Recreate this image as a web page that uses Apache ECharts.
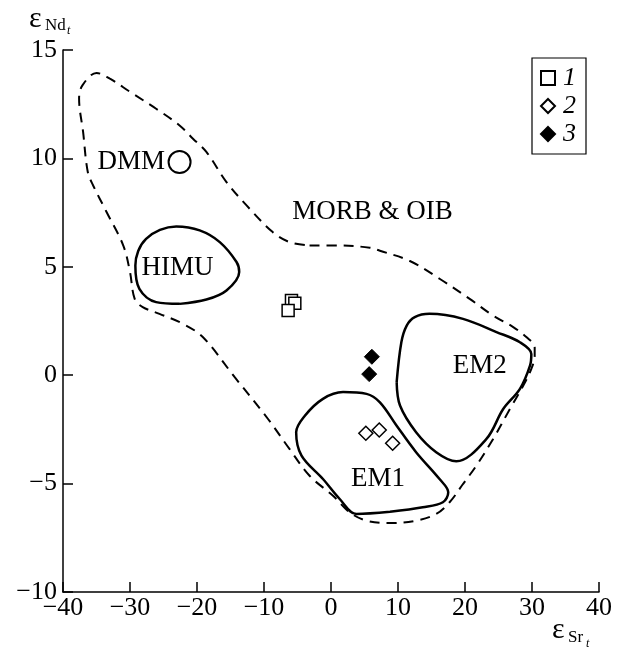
<!DOCTYPE html>
<html><head><meta charset="utf-8">
<script src="https://cdn.jsdelivr.net/npm/echarts@6/dist/echarts.min.js"></script>
<style>html,body{margin:0;padding:0;background:#fff}#c{width:621px;height:659px}</style>
</head><body><div id="c"></div>
<script>
// ---- data ----
const xMin = -40, xMax = 40, xStep = 10;
const yMin = -10, yMax = 15, yStep = 5;
const legendNames = ['1', '2', '3'];
const series1 = [[-5.9, 3.44], [-5.4, 3.32], [-6.4, 2.98]];
const series2 = [[5.2, -2.68], [7.2, -2.53], [9.2, -3.14]];
const series3 = [[6.1, 0.85], [5.7, 0.05]];
const dmmPoint = [[-22.6, 9.83]];
const morbOib = [[-3.2,5.98],[1.3,5.98],[5.8,5.88],[7.3,5.74],[11.7,5.28],[16.2,4.45],[20.7,3.52],[24.2,2.75],[27.2,2.22],[29.2,1.75],[30.4,1.29],[30.4,0.90],[29.9,0.29],[28.7,-0.48],[26.7,-1.56],[24.2,-2.94],[21.7,-4.17],[19.7,-5.02],[17.7,-5.86],[15.7,-6.40],[12.7,-6.71],[8.8,-6.82],[5.3,-6.71],[2.8,-6.33],[0.3,-5.56],[-3.2,-4.64],[-6.2,-3.40],[-9.4,-2.02],[-14.4,-0.08],[-19.1,1.75],[-22.1,2.37],[-25.6,2.83],[-28.1,3.14],[-29.3,3.52],[-30.0,4.76],[-31.0,5.98],[-33.5,7.53],[-35.5,8.75],[-36.3,9.37],[-37.0,11.22],[-37.6,12.76],[-37.1,13.37],[-35.0,13.94],[-33.0,13.68],[-30.0,13.07],[-26.1,12.29],[-22.6,11.52],[-20.6,10.91],[-18.6,10.30],[-15.6,8.91],[-12.6,7.83],[-8.7,6.60],[-6.2,6.14],[-3.2,5.98]];
const himu = [[-22.6,3.29],[-26.1,3.37],[-28.6,3.98],[-29.2,5.06],[-27.6,6.29],[-23.1,6.86],[-19.6,6.68],[-16.6,6.14],[-14.1,5.22],[-13.7,4.76],[-15.6,3.91],[-18.6,3.49],[-22.6,3.29]];
const em1 = [[8.8,-6.30],[3.8,-6.40],[1.3,-5.71],[-1.2,-4.79],[-4.4,-3.71],[-5.2,-2.63],[-3.9,-1.87],[-1.2,-1.09],[1.8,-0.78],[5.3,-0.86],[7.3,-1.25],[9.8,-2.33],[12.7,-3.55],[16.2,-4.79],[17.5,-5.40],[16.7,-5.86],[13.7,-6.09],[8.8,-6.30]];
const em2 = [[9.8,-0.32],[10.5,1.52],[11.3,2.29],[12.5,2.68],[14.7,2.83],[19.7,2.60],[24.7,1.99],[28.2,1.52],[29.9,0.98],[29.7,0.44],[28.2,-0.63],[25.7,-1.56],[23.2,-2.94],[18.7,-3.97],[15.7,-3.55],[12.7,-2.63],[10.3,-1.40],[9.8,-0.32]];
const regionLabelNames = ['DMM', 'HIMU', 'MORB & OIB', 'EM1', 'EM2'];
const regionLabelPos = [[-29.8, 9.85], [-22.9, 4.95], [6.2, 7.54], [7.0, -4.78], [22.2, 0.44]];

// ---- chart ----
const FONT = 'Liberation Serif';
const fmt = v => String(v).replace('-', '\u2212');
const chart = echarts.init(document.getElementById('c'), null, {renderer: 'canvas'});

function contour(data, dashed) {
  return {
    type: 'line', data: data, smooth: 0.35, symbol: 'none', silent: true, z: 2,
    lineStyle: {color: '#000', width: dashed ? 2 : 2.5, type: dashed ? [10, 7] : 'solid', opacity: 1},
    animation: false
  };
}

const option = {
  animation: false,
  backgroundColor: '#fff',
  grid: {left: 63, right: 22, top: 50, bottom: 67, containLabel: false},
  xAxis: {
    type: 'value', min: xMin, max: xMax, interval: xStep,
    axisLine: {show: true, onZero: false, lineStyle: {color: '#000', width: 1.5}},
    axisTick: {show: true, inside: true, length: 10, lineStyle: {color: '#000', width: 1.5}},
    axisLabel: {color: '#000', fontFamily: FONT, fontSize: 26, margin: 3, formatter: fmt},
    splitLine: {show: false}
  },
  yAxis: {
    type: 'value', min: yMin, max: yMax, interval: yStep,
    axisLine: {show: true, onZero: false, lineStyle: {color: '#000', width: 1.5}},
    axisTick: {show: true, inside: true, length: 10, lineStyle: {color: '#000', width: 1.5}},
    axisLabel: {color: '#000', fontFamily: FONT, fontSize: 26, margin: 6, formatter: fmt},
    splitLine: {show: false}
  },
  legend: {
    data: legendNames, orient: 'vertical', left: 532, top: 58,
    itemWidth: 14, itemHeight: 14, itemGap: 2,
    padding: [7, 10, 7, 8], borderColor: '#000', borderWidth: 1.2,
    selectedMode: false,
    textStyle: {fontFamily: FONT, fontStyle: 'italic', fontSize: 26, color: '#000', padding: [0, 0, 0, 3]}
  },
  series: [
    contour(morbOib, true),
    contour(himu, false),
    contour(em1, false),
    contour(em2, false),
    {
      type: 'scatter', data: dmmPoint, symbol: 'circle', symbolSize: 22, z: 3, silent: true,
      itemStyle: {color: '#fff', borderColor: '#000', borderWidth: 2, opacity: 1}
    },
    {
      type: 'scatter', z: 4, silent: true, symbolSize: 1,
      data: regionLabelPos.map((p, i) => ({name: regionLabelNames[i], value: p})),
      itemStyle: {color: 'rgba(0,0,0,0)', opacity: 1},
      label: {show: true, position: 'inside', formatter: p => p.name, color: '#000', opacity: 1, fontFamily: FONT, fontSize: 27}
    },
    {
      name: legendNames[0], type: 'scatter', data: series1, symbol: 'rect', symbolSize: 12, z: 5,
      itemStyle: {color: '#fff', borderColor: '#000', borderWidth: 1.5, opacity: 1}
    },
    {
      name: legendNames[1], type: 'scatter', data: series2, symbol: 'diamond', symbolSize: 14, z: 5,
      itemStyle: {color: '#fff', borderColor: '#000', borderWidth: 1.5, opacity: 1}
    },
    {
      name: legendNames[2], type: 'scatter', data: series3, symbol: 'diamond', symbolSize: 15, z: 5,
      itemStyle: {color: '#000', borderColor: '#000', borderWidth: 1, opacity: 1}
    }
  ],
  graphic: [
    {type: 'text', left: 29, top: 4, style: {text: '\u03b5', font: '30px ' + FONT, fill: '#000'}},
    {type: 'text', left: 45, top: 17, style: {text: 'Nd', font: '17px ' + FONT, fill: '#000'}},
    {type: 'text', left: 67, top: 25, style: {text: 't', font: 'italic 12px ' + FONT, fill: '#000'}},
    {type: 'text', left: 552, top: 615, style: {text: '\u03b5', font: '30px ' + FONT, fill: '#000'}},
    {type: 'text', left: 568, top: 629, style: {text: 'Sr', font: '17px ' + FONT, fill: '#000'}},
    {type: 'text', left: 586, top: 638, style: {text: 't', font: 'italic 12px ' + FONT, fill: '#000'}}
  ]
};
chart.setOption(option);
</script>
</body></html>
